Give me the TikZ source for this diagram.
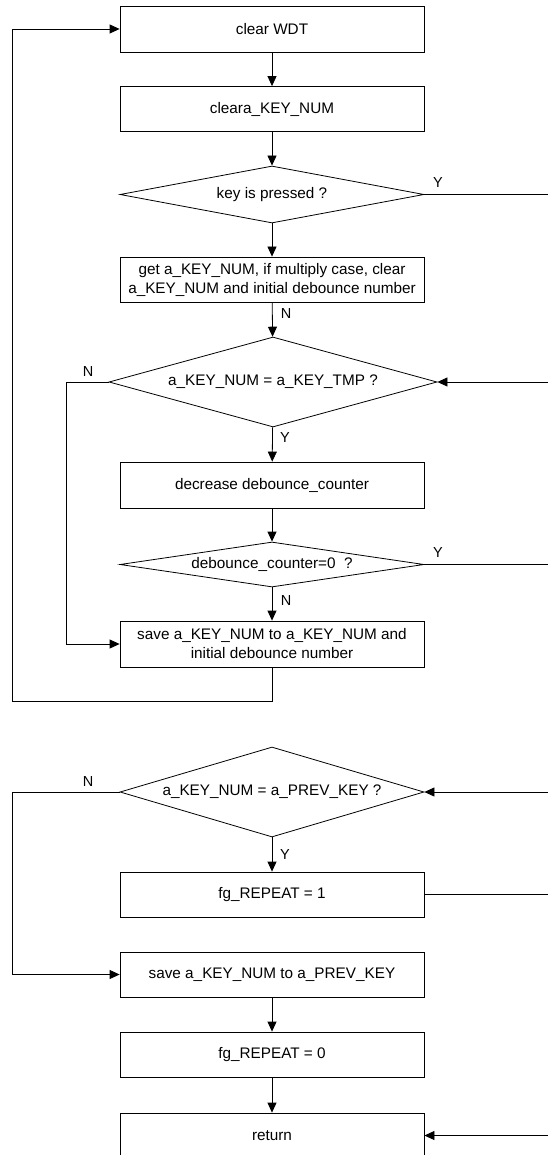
\documentclass[tikz,border=0pt]{standalone}
\usepackage{fontspec}
\setmainfont{Liberation Sans}
\usetikzlibrary{positioning,calc,shapes.geometric,arrows.meta}

\tikzset{
  box/.style={draw,rectangle,minimum width=304pt,minimum height=45pt,inner sep=0pt,align=center,font=\fontsize{15.3}{19}\selectfont},
  decide/.style={draw,diamond,inner sep=0pt,shape aspect=4,minimum width=304pt,align=center,font=\fontsize{15.3}{17}\selectfont},
  flow/.style={-{Triangle[length=10pt,width=9pt]}},
  lbl/.style={font=\fontsize{14.5}{16}\selectfont,inner sep=0pt}
}

\begin{document}
\begin{tikzpicture}[x=1pt,y=-1pt,line width=0.8pt]
      \useasboundingbox (0,0) rectangle (548,1155);

      % % Upper chart
      \node[box,minimum height=46pt] (wdt) at (272,29) {clear WDT};
      \node[box] (clr) at (272,109) {cleara\_KEY\_NUM};
      \node[decide,minimum height=57pt] (key) at (272,194.5) {key is pressed ?};
      \node[box] (get) at (272,279.5) {get a\_KEY\_NUM, if multiply case, clear\\a\_KEY\_NUM and initial debounce number};
      \node[decide,minimum width=328pt,minimum height=90pt] (eqtmp) at (273,382) {a\_KEY\_NUM = a\_KEY\_TMP ?};
      \node[box,minimum height=46pt] (dec) at (272,485) {decrease debounce\_counter};
      \node[decide,minimum height=45pt,shape aspect=6] (cnt) at (272,564.5) {debounce\_counter=0\ \ ?};
      \node[box,minimum height=46pt] (save) at (272,644) {save a\_KEY\_NUM to a\_KEY\_NUM and\\initial debounce number};

      \coordinate (keyout) at (548,194.5);
      \coordinate (tmpin) at (548,382);
      \coordinate (cntout) at (548,564.5);
      \coordinate (tmpleft) at (66,382);
      \coordinate (loopdn) at (12,701);

      \draw[flow] (wdt) -- (clr);
      \draw[flow] (clr) -- (key);
      \draw[flow] (key) -- (get);
      \draw[flow] (get) -- (eqtmp);
      \draw[flow] (eqtmp) -- (dec);
      \draw[flow] (dec) -- (cnt);
      \draw[flow] (cnt) -- (save);
      \draw (key.east) -- (keyout);
      \draw[flow] (tmpin) -- (eqtmp.east);
      \draw (cnt.east) -- (cntout);
      \draw[flow] (eqtmp.west) -- (tmpleft) |- (save.west);
      \draw[flow] (save.south) |- (loopdn) |- (wdt.west);

      \node[lbl] (ykey) at (438,183) {Y};
      \node[lbl] (nget) at (286,314) {N};
      \node[lbl] (ntmp) at (88,372) {N};
      \node[lbl] (ytmp) at (285,438) {Y};
      \node[lbl] (ycnt) at (438,553) {Y};
      \node[lbl] (ncnt) at (286,601) {N};

      % % Lower chart
      \node[decide,minimum height=90pt] (eqprev) at (272,792) {a\_KEY\_NUM = a\_PREV\_KEY ?};
      \node[box] (rep1) at (272,894.5) {fg\_REPEAT = 1};
      \node[box] (save2) at (272,974.5) {save a\_KEY\_NUM to a\_PREV\_KEY};
      \node[box] (rep0) at (272,1054.5) {fg\_REPEAT = 0};
      \node[box] (ret) at (272,1135.5) {return};

      \coordinate (previn) at (548,792);
      \coordinate (prevleft) at (12,792);
      \coordinate (repout) at (548,894.5);
      \coordinate (retin) at (548,1135.5);

      \draw[flow] (previn) -- (eqprev.east);
      \draw[flow] (eqprev) -- (rep1);
      \draw (rep1.east) -- (repout);
      \draw[flow] (eqprev.west) -- (prevleft) |- (save2.west);
      \draw[flow] (save2) -- (rep0);
      \draw[flow] (rep0) -- (ret);
      \draw[flow] (retin) -- (ret.east);

      \node[lbl] (nprev) at (88,782) {N};
      \node[lbl] (yprev) at (285,855) {Y};
\end{tikzpicture}
\end{document}
